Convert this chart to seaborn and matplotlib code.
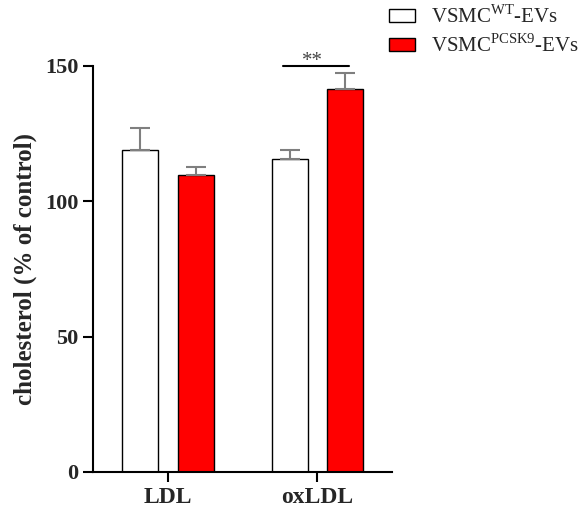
import pandas as pd
import seaborn as sns
import matplotlib.pyplot as plt
from matplotlib.patches import Patch

# Values
categories = ['LDL', 'oxLDL']
groups = ['VSMC$^{\\mathrm{WT}}$-EVs', 'VSMC$^{\\mathrm{PCSK9}}$-EVs']
wt_mean = [119.0, 115.6]
wt_err = [8.2, 3.5]
pcsk9_mean = [109.6, 141.4]
pcsk9_err = [3.2, 6.1]
colors = ['white', '#FF0000']

sns.set_style('ticks')
plt.rcParams['font.family'] = ['Liberation Serif', 'DejaVu Serif']
plt.rcParams['mathtext.fontset'] = 'custom'
plt.rcParams['mathtext.rm'] = 'Liberation Serif'

df = pd.DataFrame({
    'cat': categories * 2,
    'group': [groups[0]] * 2 + [groups[1]] * 2,
    'value': wt_mean + pcsk9_mean,
    'err': wt_err + pcsk9_err,
})

fig = plt.figure(figsize=(5.79, 5.15), dpi=100)
ax = fig.add_axes([0.161, 0.0835, 0.516, 0.7885])

sns.barplot(data=df, x='cat', y='value', hue='group', order=categories,
            hue_order=groups, palette=colors, saturation=1, edgecolor='black',
            linewidth=1, width=0.74, gap=0.35, errorbar=None, legend=False, ax=ax)

# upper-only error bars at the bar centres
for patch, (_, row) in zip(ax.patches, df.iterrows()):
    xc = patch.get_x() + patch.get_width() / 2
    ax.errorbar(xc, row['value'], yerr=[[0], [row['err']]], fmt='none',
                ecolor='#7f7f7f', elinewidth=1.5, capsize=7.5, capthick=1.5, zorder=1)

# significance bar over oxLDL
ax.plot([0.77, 1.21], [150.1, 150.1], color='black', lw=1.5, clip_on=False)
ax.text(0.97, 151.8, '**', ha='center', va='center', fontsize=15,
        color='#444444')

ax.set_xlim(-0.5, 1.5)
ax.set_ylim(0, 150)
ax.set_yticks([0, 50, 100, 150])
ax.set_xlabel('')
ax.set_ylabel('cholesterol (% of control)', fontsize=18, fontweight='bold', labelpad=6)
for lbl in ax.get_xticklabels() + ax.get_yticklabels():
    lbl.set_fontweight('bold')
ax.tick_params(axis='y', labelsize=16, width=1.5, length=7, color='black')
ax.tick_params(axis='x', labelsize=17, width=1.5, length=7, color='black')
sns.despine(ax=ax)
for s in ['left', 'bottom']:
    ax.spines[s].set_linewidth(1.5)
    ax.spines[s].set_color('black')

handles = [Patch(facecolor=c, edgecolor='black', linewidth=1) for c in colors]
fig.legend(handles, groups, loc='upper left', bbox_to_anchor=(387 / 579, 1 - 3 / 515),
           frameon=False, fontsize=15, handlelength=1.25, handleheight=0.6,
           borderaxespad=0, borderpad=0.1, labelspacing=0.32, handletextpad=0.75)

fig.savefig('out.png', dpi=100)
